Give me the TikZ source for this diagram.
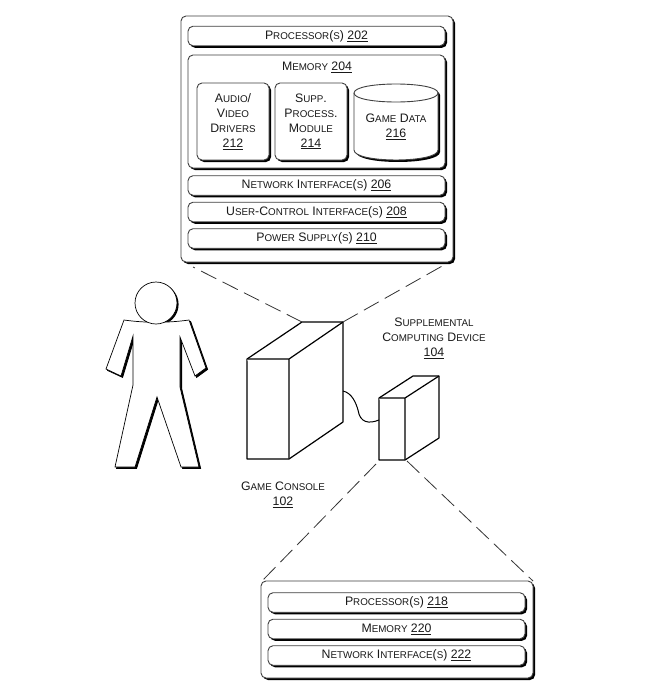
\documentclass[tikz,border=0pt]{standalone}
\usepackage{fontspec}
\setmainfont{Liberation Sans}
\usetikzlibrary{shadows}
% Hand-set small capitals: an initial capital followed by smaller capitals
\newcommand{\bigc}[1]{{\fontsize{12.3}{15}\selectfont #1}}
\newcommand{\smlc}[1]{{\fontsize{9.8}{15}\selectfont #1}}
\newcommand{\refnum}[1]{{\fontsize{12.3}{15}\selectfont\underline{#1}}}
\tikzset{
  x=1pt, y=-1pt,
  every node/.style={text=black!90, font=\fontsize{12.3}{15}\selectfont, align=center, inner sep=0pt},
  dropshadow/.style={general shadow={shadow xshift=2pt, shadow yshift=-2pt, fill=black}},
  panel/.style={draw=black!75, fill=white, line width=0.9pt, rounded corners=5pt, dropshadow},
  bar/.style={panel, minimum width=257pt, minimum height=19.5pt},
  solid box/.style={draw=black, fill=white, line width=1.2pt, line join=round},
  lead/.style={draw=black!80, line width=0.8pt, dash pattern=on 17pt off 7pt},
}
\begin{document}
\begin{tikzpicture}
\useasboundingbox (0,0) rectangle (668,694);
\fill[white] (0,0) rectangle (668,694);

% Console internals
\node[panel, minimum width=272pt, minimum height=246pt] (consolepanel) at (317,139) {};
\node[bar] (proc) at (316.5,36) {\bigc{P}\smlc{ROCESSOR}(\smlc{S}) \refnum{202}};
\node[panel, minimum width=257pt, minimum height=113pt] (mem) at (316.5,111.5) {};
\node (memlabel) at (317,67.3) {\bigc{M}\smlc{EMORY} \refnum{204}};
\node[panel, minimum width=72pt, minimum height=77pt] (audio) at (233,121.5)
  {\bigc{A}\smlc{UDIO}/\\ \bigc{V}\smlc{IDEO}\\ \bigc{D}\smlc{RIVERS}\\ \refnum{212}};
\node[panel, minimum width=72pt, minimum height=77pt] (supp) at (311,121.5)
  {\bigc{S}\smlc{UPP}.\\ \bigc{P}\smlc{ROCESS}.\\ \bigc{M}\smlc{ODULE}\\ \refnum{214}};

% Game data cylinder
\path[draw=black!75, fill=white, line width=0.9pt, dropshadow]
  (354,93) .. controls (354,81) and (438,81) .. (438,93)
  -- (438,150) .. controls (438,163.3) and (354,163.3) .. (354,150) -- cycle;
\draw[black!75, line width=0.9pt] (354,93) .. controls (354,105) and (438,105) .. (438,93);
\node (gamedatalabel) at (396,127) {\bigc{G}\smlc{AME} \bigc{D}\smlc{ATA}\\ \refnum{216}};

\node[bar] (net) at (316.5,185.5) {\bigc{N}\smlc{ETWORK} \bigc{I}\smlc{NTERFACE}(\smlc{S}) \refnum{206}};
\node[bar] (user) at (316.5,212) {\bigc{U}\smlc{SER}-\bigc{C}\smlc{ONTROL} \bigc{I}\smlc{NTERFACE}(\smlc{S}) \refnum{208}};
\node[bar] (power) at (316.5,238.5) {\bigc{P}\smlc{OWER} \bigc{S}\smlc{UPPLY}(\smlc{S}) \refnum{210}};

% Supplemental device internals
\node[panel, minimum width=272pt, minimum height=97pt] (supppanel) at (397,629.5) {};
\node[bar] (proctwo) at (396.5,602.5) {\bigc{P}\smlc{ROCESSOR}(\smlc{S}) \refnum{218}};
\node[bar] (memtwo) at (396.5,629) {\bigc{M}\smlc{EMORY} \refnum{220}};
\node[bar] (nettwo) at (396.5,655.5) {\bigc{N}\smlc{ETWORK} \bigc{I}\smlc{NTERFACE}(\smlc{S}) \refnum{222}};

% Game console block
\coordinate (ca) at (247,359);
\coordinate (cb) at (289,359);
\coordinate (cc) at (289,459);
\coordinate (cd) at (247,459);
\coordinate (ce) at (302,322);
\coordinate (cf) at (343,322);
\coordinate (cg) at (343,422);
\draw[solid box] (ca) -- (ce) -- (cf) -- (cg) -- (cc) -- (cd) -- cycle;
\draw[solid box] (ca) -- (cb) -- (cc) (cb) -- (cf);

% Supplemental device block
\coordinate (da) at (379,398);
\coordinate (db) at (405,398);
\coordinate (dc) at (405,460);
\coordinate (dd) at (379,460);
\coordinate (de) at (413,376);
\coordinate (df) at (439,376);
\coordinate (dg) at (439,438);
\draw[solid box] (da) -- (de) -- (df) -- (dg) -- (dc) -- (dd) -- cycle;
\draw[solid box] (da) -- (db) -- (dc) (db) -- (df);

% Cable between the two blocks
\coordinate (cableout) at (343,391);
\coordinate (cablein) at (379,420);
\draw[line width=1pt] (cableout) .. controls (352,393) and (356,403) .. (358,410)
  .. controls (360,423) and (369,424) .. (cablein);

% Leader lines from the blocks to their panels
\coordinate (pl) at (193,267);
\coordinate (pr) at (444,265);
\coordinate (ql) at (262,581);
\coordinate (qr) at (533,581);
\coordinate (dl) at (376,464);
\coordinate (dr) at (407,461);
\draw[lead] (ce) -- (pl);
\draw[lead] (cf) -- (pr);
\draw[lead] (dl) -- (ql);
\draw[lead] (dr) -- (qr);

% Standing figure
\def\figureoutline{(124,320) .. controls (145,323) and (168,323) .. (189,320)
  -- (206,368) -- (195,376) -- (180,337) -- (180,387) -- (199,467) -- (181,467)
  -- (157,397) -- (135,467) -- (115,467) -- (133,385) -- (133,336) -- (121,376)
  -- (106,369) -- cycle}
\fill[black] ([xshift=1.6pt,yshift=-1.4pt]156,303) circle (21pt);
\draw[line width=0.8pt, fill=black, xshift=1.6pt, yshift=-1.4pt] \figureoutline;
\draw[line width=0.7pt, fill=white, line join=miter] \figureoutline;
\draw[line width=0.7pt, fill=white] (156,303) circle (21pt);

% Captions
\node (supplabel) at (434,338.5) {\bigc{S}\smlc{UPPLEMENTAL}\\ \bigc{C}\smlc{OMPUTING} \bigc{D}\smlc{EVICE}\\ \refnum{104}};
\node (consolelabel) at (283,494.5) {\bigc{G}\smlc{AME} \bigc{C}\smlc{ONSOLE}\\ \refnum{102}};
\end{tikzpicture}
\end{document}
